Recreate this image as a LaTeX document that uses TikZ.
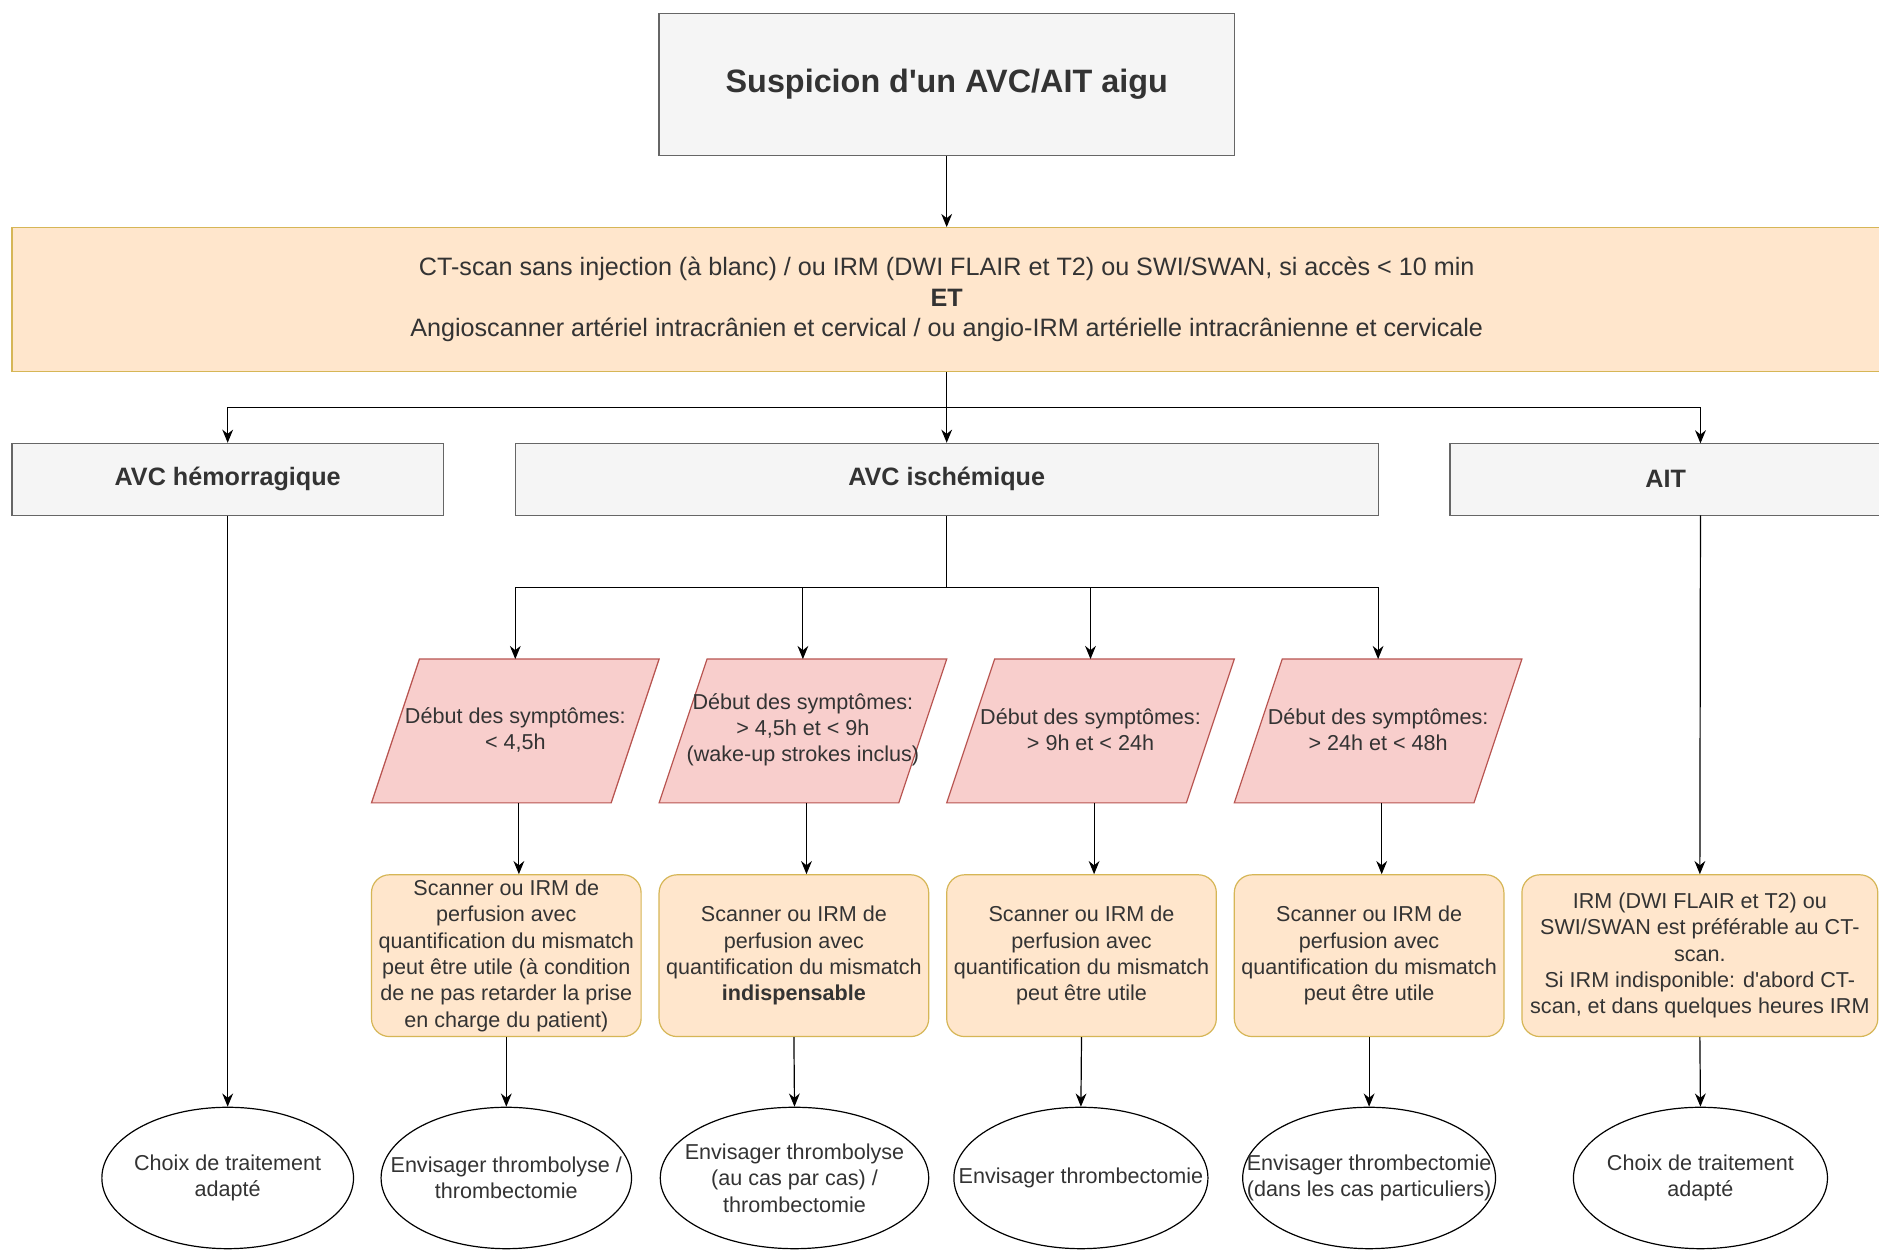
\documentclass[tikz,border=0pt]{standalone}
\usepackage{fontspec}
\setmainfont{Liberation Sans}
\usetikzlibrary{arrows.meta,calc,shapes.geometric}
\definecolor{txt}{HTML}{333333}
\definecolor{grayfill}{HTML}{F5F5F5}
\definecolor{grayline}{HTML}{666666}
\definecolor{peach}{HTML}{FFE6CC}
\definecolor{gold}{HTML}{D6B656}
\definecolor{pinkfill}{HTML}{F8CECC}
\definecolor{pinkline}{HTML}{B85450}
\tikzset{
  base/.style={font=\fontsize{18}{22}\selectfont, text=txt, align=center, inner sep=0pt},
  graybox/.style={base, draw=grayline, fill=grayfill, line width=1pt, font=\fontsize{21}{25}\selectfont\bfseries},
  peachbox/.style={base, draw=gold, fill=peach, line width=1pt},
  roundbox/.style={peachbox, rounded corners=15pt, minimum width=225pt, minimum height=135pt},
  oval/.style={draw=black, fill=white, line width=1pt, ellipse, inner sep=0pt, minimum height=118pt},
  ovaltext/.style={label={[base]center:{#1}}},
  para/.style={draw=pinkline, fill=pinkfill, line width=1pt},
  conn/.style={draw=black, line width=1pt, -{Stealth[length=11pt,width=9pt]}},
  plain/.style={draw=black, line width=1pt},
}
\begin{document}
\begin{tikzpicture}[x=1pt,y=-1pt]
\useasboundingbox (0,0) rectangle (1568,1043);
\clip (0,0) rectangle (1568,1043);
\fill[white] (0,0) rectangle (1568,1043);

% top
\node[graybox, font=\fontsize{27}{31}\selectfont\bfseries, minimum width=480pt, minimum height=119pt] (top) at (790,70.5) {Suspicion d\textquotesingle un AVC/AIT aigu};
% banner
\node[peachbox, font=\fontsize{21}{25.5}\selectfont, minimum width=1560pt, minimum height=120pt] (ban) at (790,250)
 {CT-scan sans injection (à blanc) / ou IRM (DWI FLAIR et T2) ou SWI/SWAN, si accès < 10 min\\
  \textbf{ET}\\
  Angioscanner artériel intracrânien et cervical / ou angio-IRM artérielle intracrânienne et cervicale};

% level 2
\node[graybox, minimum width=360pt, minimum height=60pt] (hem) at (190,400) {AVC hémorragique};
\node[graybox, minimum width=720pt, minimum height=60pt] (isch) at (790,400) {AVC ischémique};
\node[graybox, minimum width=360pt, minimum height=60pt] (ait) at (1390,400) {AIT};
\coordinate (aitin) at (1419,370);
\coordinate (aitout) at (1419,430);

\draw[conn] (top.south) -- (ban.north);
\coordinate (j1) at (790,340);
\draw[conn] (ban.south) -- (isch.north);
\draw[conn] (j1) -| (hem.north);
\draw[conn] (j1) -| (aitin);

% parallelograms
\foreach \n/\c in {p1/430,p2/670,p3/910,p4/1150}{
  \filldraw[para] (\c-80,550) -- (\c+120,550) -- (\c+80,670) -- (\c-120,670) -- cycle;
  \coordinate (\n t) at (\c,550);
  \coordinate (\n b) at (\c+3,670);
}
\node[base] (p1) at (430,609) {Début des symptômes:\\< 4,5h};
\node[base] (p2) at (670,609) {Début des symptômes:\\> 4,5h et < 9h\\(wake-up strokes inclus)};
\node[base] (p3) at (910,609) {Début des symptômes:\\> 9h et < 24h};
\node[base] (p4) at (1150,609) {Début des symptômes:\\> 24h et < 48h};

\coordinate (j2) at (790,490);
\draw[plain] (isch.south) -- (j2);
\draw[conn] (j2) -| (p1t);
\draw[conn] (j2) -| (p2t);
\draw[conn] (j2) -| (p3t);
\draw[conn] (j2) -| (p4t);

% rounded boxes
\node[roundbox] (r1) at (422.5,797.5) {Scanner ou IRM de\\perfusion avec\\quantification du mismatch\\peut être utile (à condition\\de ne pas retarder la prise\\en charge du patient)};
\node[roundbox] (r2) at (662.5,797.5) {Scanner ou IRM de\\perfusion avec\\quantification du mismatch\\\textbf{indispensable}};
\node[roundbox] (r3) at (902.5,797.5) {Scanner ou IRM de\\perfusion avec\\quantification du mismatch\\peut être utile};
\node[roundbox] (r4) at (1142.5,797.5) {Scanner ou IRM de\\perfusion avec\\quantification du mismatch\\peut être utile};
\node[roundbox, minimum width=297pt] (r5) at (1418.5,797.5) {IRM (DWI FLAIR et T2) ou\\SWI/SWAN est préférable au CT-\\scan.\\Si IRM indisponible: d\textquotesingle abord CT-\\scan, et dans quelques heures IRM};

\draw[conn] (p1b) -- (p1b |- r1.north);
\draw[conn] (p2b) -- (p2b |- r2.north);
\draw[conn] (p3b) -- (p3b |- r3.north);
\draw[conn] (p4b) -- (p4b |- r4.north);
\draw[conn] (aitout) -- (r5.north);

% ellipses
\node[oval, minimum width=210pt, ovaltext={Choix de traitement\\adapté}] (e0) at (190,983) {};
\node[oval, minimum width=209pt, ovaltext={Envisager thrombolyse /\\thrombectomie}] (e1) at (422.5,983) {};
\node[oval, minimum width=224pt, ovaltext={Envisager thrombolyse\\(au cas par cas) /\\thrombectomie}] (e2) at (663,983) {};
\node[oval, minimum width=212pt, ovaltext={Envisager thrombectomie}] (e3) at (902,983) {};
\node[oval, minimum width=211pt, ovaltext={Envisager thrombectomie\\(dans les cas particuliers)}] (e4) at (1142.5,983) {};
\node[oval, minimum width=212pt, ovaltext={Choix de traitement\\adapté}] (e5) at (1419,983) {};

\draw[conn] (hem.south) -- (e0.north);
\draw[conn] (r1.south) -- (e1.north);
\draw[conn] (r2.south) -- (e2.north);
\draw[conn] (r3.south) -- (e3.north);
\draw[conn] (r4.south) -- (e4.north);
\draw[conn] (r5.south) -- (e5.north);
\end{tikzpicture}
\end{document}
